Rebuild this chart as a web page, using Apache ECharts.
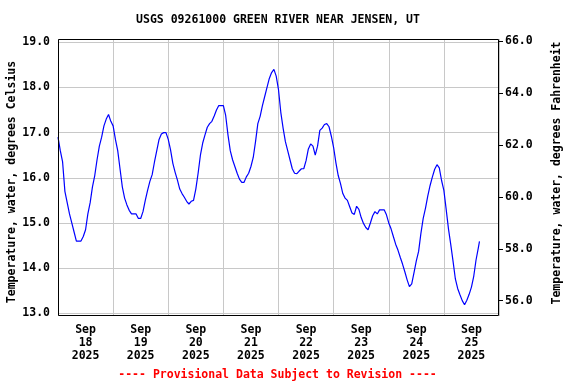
<!DOCTYPE html>
<html>
<head>
<meta charset="utf-8">
<script src="https://cdn.jsdelivr.net/npm/echarts@6/dist/echarts.min.js"></script>
<style>html,body{margin:0;padding:0;background:#fff}#c{width:576px;height:384px}</style>
</head>
<body>
<div id="c"></div>
<script>
// Tick / category labels
const dayMonth = 'Sep';
const dayNumbers = ['18','19','20','21','22','23','24','25'];
const dayYear = '2025';
const celsiusTicks = [13, 14, 15, 16, 17, 18, 19];
const fahrenheitTicks = [56, 58, 60, 62, 64, 66];

// Hourly water temperature readings (deg C), starting Sep 18 2025 00:00
const day1 = [16.9, 16.6, 16.35, 15.7, 15.45, 15.2, 15.0, 14.8, 14.6, 14.6, 14.6, 14.7, 14.85, 15.2, 15.45, 15.8, 16.05, 16.4, 16.7, 16.9, 17.15, 17.3, 17.4, 17.25, 17.15];
const day2 = [16.85, 16.6, 16.2, 15.8, 15.55, 15.4, 15.28, 15.2, 15.2, 15.2, 15.1, 15.1, 15.25, 15.5, 15.72, 15.92, 16.07, 16.35, 16.6, 16.85, 16.97, 17.0, 17.0, 16.85];
const day3 = [16.62, 16.32, 16.12, 15.95, 15.75, 15.65, 15.57, 15.48, 15.42, 15.48, 15.5, 15.75, 16.1, 16.5, 16.77, 16.95, 17.12, 17.2, 17.25, 17.37, 17.5, 17.6, 17.6, 17.6];
const day4 = [17.38, 16.95, 16.6, 16.4, 16.25, 16.1, 15.97, 15.9, 15.9, 16.02, 16.1, 16.25, 16.45, 16.8, 17.2, 17.36, 17.6, 17.8, 18.0, 18.2, 18.33, 18.4, 18.25, 17.95];
const day5 = [17.45, 17.1, 16.8, 16.6, 16.4, 16.2, 16.1, 16.09, 16.15, 16.2, 16.2, 16.38, 16.64, 16.75, 16.7, 16.5, 16.7, 17.05, 17.1, 17.18, 17.2, 17.13, 16.92, 16.67];
const day6 = [16.33, 16.05, 15.87, 15.65, 15.55, 15.5, 15.36, 15.22, 15.19, 15.37, 15.3, 15.12, 14.99, 14.9, 14.85, 15.0, 15.16, 15.25, 15.2, 15.29, 15.29, 15.29, 15.18, 15.0];
const day7 = [14.87, 14.7, 14.53, 14.4, 14.24, 14.09, 13.92, 13.74, 13.59, 13.65, 13.9, 14.16, 14.37, 14.77, 15.1, 15.33, 15.6, 15.83, 16.02, 16.19, 16.29, 16.22, 15.94, 15.72];
const day8 = [15.3, 14.87, 14.52, 14.15, 13.76, 13.55, 13.41, 13.28, 13.19, 13.29, 13.42, 13.58, 13.82, 14.18, 14.45];
const lastReadingHour = 183.5;
const lastReadingValue = 14.59;

const hourlyValues = [].concat(day1, day2, day3, day4, day5, day6, day7, day8);
const seriesData = hourlyValues.map((v, i) => [i, v]);
seriesData.push([lastReadingHour, lastReadingValue]);

const FONT = 'DejaVu Sans Mono';
const txt = {fontFamily: FONT, fontWeight: 'bold', fontSize: 11.5, color: '#000'};

const chart = echarts.init(document.getElementById('c'), null, {renderer: 'canvas'});
chart.setOption({
  animation: false,
  backgroundColor: '#fff',
  grid: {left: 58, right: 77, top: 39, bottom: 68, containLabel: false},
  xAxis: [
    {
      type: 'value', min: 0, max: 192, interval: 24,
      axisLine: {show: false}, axisTick: {show: false}, axisLabel: {show: false},
      splitLine: {show: true, lineStyle: {color: '#c8c8c8', width: 1}}
    },
    {
      type: 'category', position: 'bottom', boundaryGap: true,
      data: dayNumbers.map(d => dayMonth + '\n' + d + '\n' + dayYear),
      axisLine: {show: false}, axisTick: {show: false}, splitLine: {show: false},
      axisLabel: Object.assign({}, txt, {margin: 8, lineHeight: 13, interval: 0, align: 'center'})
    }
  ],
  yAxis: [
    {
      type: 'value', position: 'left', min: 12.94, max: 19.073,
      axisLine: {show: false},
      axisTick: {show: false, customValues: celsiusTicks},
      axisLabel: Object.assign({}, txt, {margin: 8, customValues: celsiusTicks, formatter: v => Number(v).toFixed(1)}),
      splitLine: {show: true, lineStyle: {color: '#c8c8c8', width: 1}}
    },
    {
      type: 'value', position: 'right', min: 55.41, max: 66.096,
      axisLine: {show: false},
      axisTick: {show: true, inside: false, length: 4, customValues: fahrenheitTicks, lineStyle: {color: '#000'}},
      axisLabel: Object.assign({}, txt, {margin: 6, customValues: fahrenheitTicks, formatter: v => Number(v).toFixed(1)}),
      splitLine: {show: false}
    }
  ],
  series: [{
    type: 'line', xAxisIndex: 0, yAxisIndex: 0,
    data: seriesData, showSymbol: false, symbol: 'none',
    lineStyle: {color: '#0000ff', width: 1.2}, z: 5
  }],
  graphic: [
    {type: 'rect', z: 100, shape: {x: 58.5, y: 39.5, width: 440, height: 276},
     style: {fill: null, stroke: '#000', lineWidth: 1}},
    {type: 'text', z: 100, x: 278, y: 20,
     style: {text: 'USGS 09261000 GREEN RIVER NEAR JENSEN, UT', font: 'bold 11.5px "DejaVu Sans Mono"', fill: '#000', align: 'center', verticalAlign: 'middle'}},
    {type: 'text', z: 100, x: 12, y: 182, rotation: Math.PI / 2,
     style: {text: 'Temperature, water, degrees Celsius', font: 'bold 11.5px "DejaVu Sans Mono"', fill: '#000', align: 'center', verticalAlign: 'middle'}},
    {type: 'text', z: 100, x: 557, y: 173, rotation: Math.PI / 2,
     style: {text: 'Temperature, water, degrees Fahrenheit', font: 'bold 11.5px "DejaVu Sans Mono"', fill: '#000', align: 'center', verticalAlign: 'middle'}},
    {type: 'text', z: 100, x: 277.5, y: 375,
     style: {text: '---- Provisional Data Subject to Revision ----', font: 'bold 11.5px "DejaVu Sans Mono"', fill: '#ff0000', align: 'center', verticalAlign: 'middle'}}
  ]
});
</script>
</body>
</html>
